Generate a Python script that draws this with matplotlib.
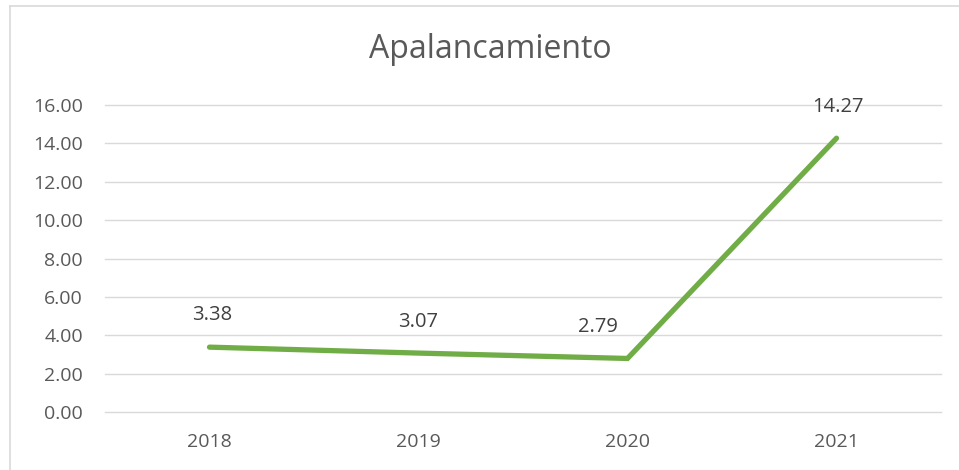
import matplotlib
matplotlib.use("Agg")
import matplotlib.pyplot as plt
from matplotlib.lines import Line2D

years = ["2018", "2019", "2020", "2021"]
values = [3.38, 3.07, 2.79, 14.27]
labels = ["3.38", "3.07", "2.79", "14.27"]
yticks = [0, 2, 4, 6, 8, 10, 12, 14, 16]

plt.rcParams['font.family'] = ['Open Sans', 'DejaVu Sans']

fig = plt.figure(figsize=(9.59, 4.70), dpi=100)
ax = fig.add_axes([105/959, 1-412/470, (941-105)/959, (412-105)/470])

x = list(range(len(years)))
ax.plot(x, values, color="#70AD47", lw=3.8, solid_capstyle="round", solid_joinstyle="miter", zorder=3)

offsets = [(2, 23), (0, 22.5), (-21.5, 22.5), (1, 22.5)]
for xi, v, lab, off in zip(x, values, labels, offsets):
    ax.annotate(lab, (xi, v), xytext=off, textcoords="offset points",
                ha="center", va="center", fontsize=14.5, color="#404040")

ax.set_xlim(-0.5, len(years) - 0.5)
ax.set_ylim(0, 16)
ax.set_yticks(yticks)
ax.set_yticklabels([f"{t:.2f}" for t in yticks])
ax.set_xticks(x)
ax.set_xticklabels(years)
ax.grid(axis="y", color="#D9D9D9", lw=1.0)
for gl in ax.get_ygridlines():
    gl.set_clip_on(False)
ax.set_axisbelow(True)
for s in ax.spines.values():
    s.set_visible(False)
ax.tick_params(axis="both", length=0, labelsize=14, colors="#595959")
ax.tick_params(axis="y", pad=16)
ax.tick_params(axis="x", pad=15)

fig.text(490/959, 1-50/470, "Apalancamiento", ha="center", va="center", fontsize=23, color="#595959")

# chart border (left and top)
fig.add_artist(Line2D([10/959, 10/959], [0, 1-6/470], color="#D9D9D9", lw=1.2, transform=fig.transFigure))
fig.add_artist(Line2D([10/959, 1], [1-6/470, 1-6/470], color="#D9D9D9", lw=1.2, transform=fig.transFigure))

fig.savefig("out.png", dpi=100)
